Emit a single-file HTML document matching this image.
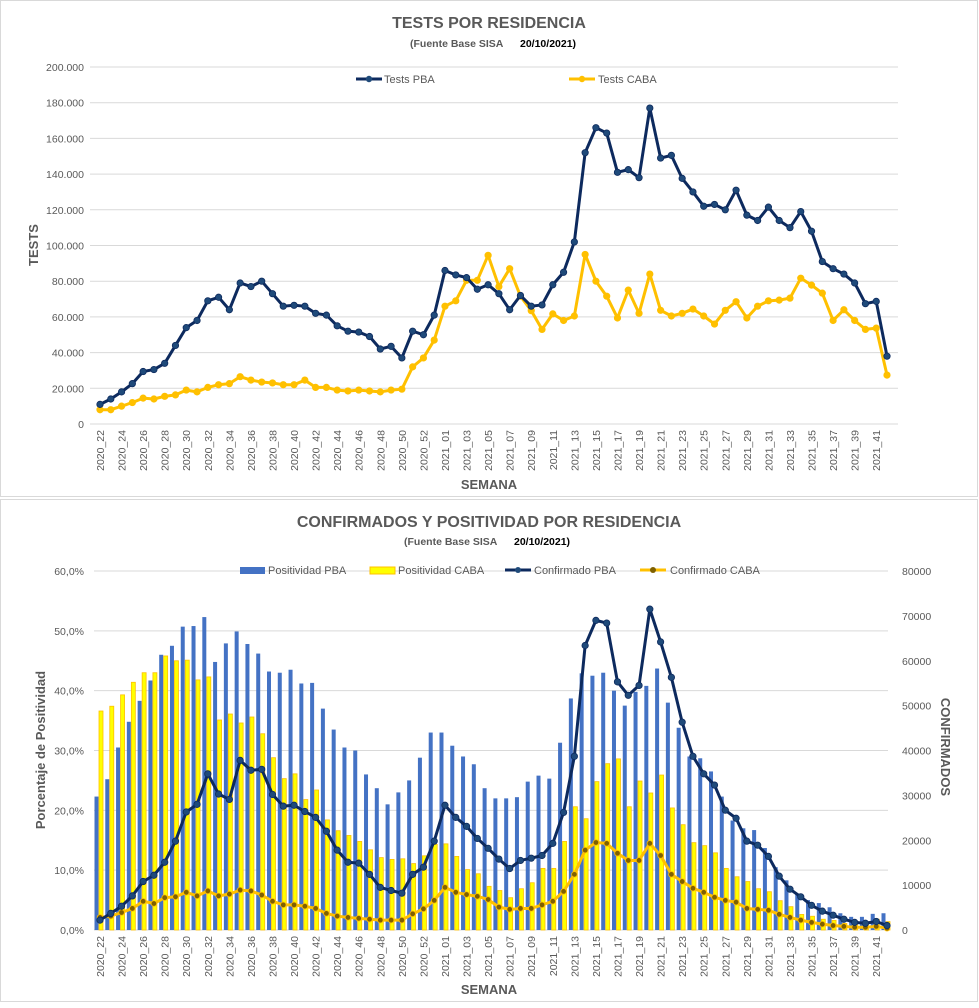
<!DOCTYPE html>
<html><head><meta charset="utf-8"><style>
body{margin:0;background:#fff;}
svg text{font-family:"Liberation Sans",sans-serif;}
</style></head><body>
<svg id="c" width="979" height="1003" xmlns="http://www.w3.org/2000/svg">
<rect x="0.5" y="0.5" width="977" height="496" fill="#fff" stroke="#d9d9d9"/>
<rect x="0.5" y="499.5" width="977" height="502" fill="#fff" stroke="#d9d9d9"/>
<text x="489" y="28" text-anchor="middle" font-size="16" font-weight="bold" fill="#595959">TESTS POR RESIDENCIA</text>
<text x="410" y="47" font-size="10.5" font-weight="bold" fill="#595959">(Fuente Base SISA</text>
<text x="520" y="47" font-size="10.5" font-weight="bold" fill="#000">20/10/2021)</text>
<text x="489" y="527" text-anchor="middle" font-size="16" font-weight="bold" fill="#595959">CONFIRMADOS Y POSITIVIDAD POR RESIDENCIA</text>
<text x="404" y="545" font-size="10.5" font-weight="bold" fill="#595959">(Fuente Base SISA</text>
<text x="514" y="545" font-size="10.5" font-weight="bold" fill="#000">20/10/2021)</text>
<g id="top"></g><g id="bot"></g>
</svg>
<script>
const weeks=[];for(let w=22;w<=53;w++)weeks.push('2020_'+w);for(let w=1;w<=42;w++)weeks.push('2021_'+String(w).padStart(2,'0'));
const testsPBA=[11,14,18,22.6,29.4,30.5,34,44,54,58,69,71,64,79,77,80,73,66,66.5,66,62,61,55,52,51.5,49,42,43.5,37,52,50,61,86,83.5,82,75.5,78,73,64,72,66,66.7,78,85,102,152,166,163,141,142.5,138,177,149,150.5,137.6,130,122,123,120,131,117,114,121.5,114,110,119,108,91,87,84,79,67.4,68.7,38];
const testsCABA=[8,8,10,12,14.5,14,15.5,16.3,19,18,20.5,22,22.6,26.5,24.6,23.5,23,22,22,24.6,20.5,20.5,19,18.5,19,18.5,18,19,19.5,32,37,47,66,69,80.5,80.5,94.5,77,87,71.6,63.5,53,61.7,58,60.5,95,80,71.6,59.4,75,62,84,63.7,60.5,62,64.4,60.5,56,63.7,68.5,59.4,66,69,69.4,70.5,81.7,77.8,73.3,58,64,58,53,53.7,27.4];
const posPBA=[22.3,25.2,30.5,34.8,38.3,41.7,46,47.5,50.7,50.8,52.3,44.8,47.9,49.9,47.8,46.2,43.2,43,43.5,41.2,41.3,37,33.5,30.5,30,26,23.7,21,23,25,28.8,33,33,30.8,29,27.7,23.7,22,22,22.2,24.8,25.8,25.3,31.3,38.7,42.9,42.5,43,40,37.5,39.8,40.8,43.7,38,33.8,29,28.7,26.5,22.3,18.3,17,16.7,13.7,10.5,8.3,6.1,5,4.5,3.8,2.8,2.2,2.2,2.7,2.8];
const posCABA=[36.6,37.4,39.3,41.4,43,43,45.8,45,45.1,41.8,42.3,35.1,36.1,34.6,35.6,32.8,28.8,25.3,26.1,21.8,23.4,18.4,16.6,15.8,14.8,13.4,12.1,11.8,11.9,11.1,12.4,14.3,14.4,12.3,10.1,9.4,7.3,6.6,5.4,6.9,7.9,10.3,10.3,14.8,20.6,18.6,24.8,27.8,28.6,20.6,24.9,22.9,25.9,20.4,17.6,14.6,14.1,12.9,10.3,8.9,8.1,6.9,6.4,4.9,3.9,2.6,2.3,1.8,1.6,1.1,0.9,0.9,1.8,1.4];
const confPBA=[2.2,3.7,5.3,7.6,10.8,12.2,15.1,19.8,26.3,28,34.8,30.3,29.1,37.8,35.6,35.8,30.2,27.6,27.8,26.4,25.1,22,17.8,15.1,14.9,12.4,9.5,8.8,8.2,12.4,14,19.8,27.8,25.1,23.1,20.4,18.2,15.8,13.7,15.5,16,16.6,19.3,26.2,38.7,63.4,69,68.4,55.3,52.3,54.5,71.5,64.2,56.3,46.3,38.7,34.8,32.3,26.7,24.9,19.8,18.9,16.4,12,9.1,7.4,5.5,4.2,3.3,2.4,1.7,1.5,1.9,1];
const confCABA=[2.8,3.1,3.9,4.8,6.4,5.9,7.2,7.4,8.4,7.6,8.7,7.6,8,8.9,8.7,7.8,6.4,5.6,5.6,5.3,4.8,3.7,3.1,2.8,2.6,2.4,2.2,2.2,2.2,3.6,4.7,6.6,9.5,8.4,7.9,7.5,6.8,5.1,4.6,4.8,4.8,5.6,6.4,8.6,12.4,17.8,19.5,19.3,17.1,15.5,15.5,19.3,16.6,12.4,10.8,9.3,8.4,7.3,6.6,6.2,4.8,4.6,4.4,3.5,2.8,2.2,1.7,1.3,1,0.8,0.6,0.6,0.8,0.4];
const topTicks=['0','20.000','40.000','60.000','80.000','100.000','120.000','140.000','160.000','180.000','200.000'];
const pctTicks=['0,0%','10,0%','20,0%','30,0%','40,0%','50,0%','60,0%'];
const rightTicks=['0','10000','20000','30000','40000','50000','60000','70000','80000'];

const NS='http://www.w3.org/2000/svg';
function mk(p,t,a,txt){const e=document.createElementNS(NS,t);for(const k in a)e.setAttribute(k,a[k]);if(txt!==undefined)e.textContent=txt;p.appendChild(e);return e;}
const xAt=i=>100+i*(787/(weeks.length-1));
const topG=document.getElementById('top'),botG=document.getElementById('bot');
const yT=v=>424-v*357/200;
topTicks.forEach((s,k)=>{const y=424-k*35.7;
 const g=mk(topG,'line',{x1:90,x2:898,y1:y,y2:y,stroke:'#d9d9d9','stroke-width':1});
 
 
 const l=mk(topG,'text',{x:84,y:y+4,'text-anchor':'end','font-size':10.5,fill:'#595959'},s);
 
 });
function xlabels(par,y0,nm){weeks.forEach((w,i)=>{if(i%2)return;const x=xAt(i)+4;
 const e=mk(par,'text',{x:x,y:y0,'text-anchor':'end','font-size':10.5,fill:'#595959',transform:`rotate(-90 ${x} ${y0})`},w);
 
 });}
xlabels(topG,430,'tests-x-tick');
function series(par,vals,yf,col,mcol,r,w,nm){
 const p=mk(par,'polyline',{points:vals.map((v,i)=>xAt(i)+','+yf(v)).join(' '),fill:'none',stroke:col,'stroke-width':w,'stroke-linejoin':'round'});
 
 
 vals.forEach((v,i)=>{const c=mk(par,'circle',{cx:xAt(i),cy:yf(v),r:r,fill:mcol,stroke:col,'stroke-width':0.8});
 
 });}
series(topG,testsCABA,yT,'#ffc000','#ffc000',3.2,3,'tests-caba');
series(topG,testsPBA,yT,'#0d2a5e','#1f4a7a',3.2,3,'tests-pba');
let t;
t=mk(topG,'text',{x:489,y:489,'text-anchor':'middle','font-size':13,'font-weight':'bold',fill:'#595959'},'SEMANA');

t=mk(topG,'text',{x:38,y:245,'text-anchor':'middle','font-size':13,'font-weight':'bold',fill:'#595959',transform:'rotate(-90 38 245)'},'TESTS');

mk(topG,'line',{x1:356,x2:382,y1:79,y2:79,stroke:'#0d2a5e','stroke-width':3});mk(topG,'circle',{cx:369,cy:79,r:3.2,fill:'#1f4a7a'});
t=mk(topG,'text',{x:384,y:83,'font-size':11,fill:'#595959'},'Tests PBA');
mk(topG,'line',{x1:569,x2:595,y1:79,y2:79,stroke:'#ffc000','stroke-width':3});mk(topG,'circle',{cx:582,cy:79,r:3.2,fill:'#ffc000'});
t=mk(topG,'text',{x:598,y:83,'font-size':11,fill:'#595959'},'Tests CABA');
const yP=v=>930-v*359/60, yC=v=>930-v*359/80;
pctTicks.forEach((s,k)=>{const y=930-k*359/6;
 const g=mk(botG,'line',{x1:94,x2:888,y1:y,y2:y,stroke:'#d9d9d9','stroke-width':1});
 
 
 const l=mk(botG,'text',{x:84,y:y+4,'text-anchor':'end','font-size':10.5,fill:'#595959'},s);
 
 });
rightTicks.forEach((s,k)=>{const y=930-k*359/8;
 const l=mk(botG,'text',{x:902,y:y+4,'font-size':10.5,fill:'#595959'},s);
 
 });
weeks.forEach((w,i)=>{const c=xAt(i);
 const b=mk(botG,'rect',{x:c-5.5,y:yP(posPBA[i]),width:4,height:930-yP(posPBA[i]),fill:'#4472c4'});
 
 
 const y2=mk(botG,'rect',{x:c-1,y:yP(posCABA[i]),width:4,height:930-yP(posCABA[i]),fill:'#ffff00',stroke:'#ffc000','stroke-width':0.8});
 
 });
series(botG,confCABA,yC,'#ffc000','#7f6000',2.8,3,'confirmado-caba');
series(botG,confPBA,yC,'#0d2a5e','#1f4a7a',3.2,3,'confirmado-pba');
xlabels(botG,936,'confirmados-x-tick');
t=mk(botG,'text',{x:489,y:994,'text-anchor':'middle','font-size':13,'font-weight':'bold',fill:'#595959'},'SEMANA');

t=mk(botG,'text',{x:45,y:750,'text-anchor':'middle','font-size':13,'font-weight':'bold',fill:'#595959',transform:'rotate(-90 45 750)'},'Porcentaje de Positividad');

t=mk(botG,'text',{x:941,y:747,'text-anchor':'middle','font-size':13,'font-weight':'bold',fill:'#595959',transform:'rotate(90 941 747)'},'CONFIRMADOS');

mk(botG,'rect',{x:240,y:567,width:25,height:7,fill:'#4472c4'});
t=mk(botG,'text',{x:268,y:574,'font-size':11,fill:'#595959'},'Positividad PBA');
mk(botG,'rect',{x:370,y:567,width:25,height:7,fill:'#ffff00',stroke:'#ffc000'});
t=mk(botG,'text',{x:398,y:574,'font-size':11,fill:'#595959'},'Positividad CABA');
mk(botG,'line',{x1:505,x2:531,y1:570,y2:570,stroke:'#0d2a5e','stroke-width':3});mk(botG,'circle',{cx:518,cy:570,r:3,fill:'#1f4a7a'});
t=mk(botG,'text',{x:534,y:574,'font-size':11,fill:'#595959'},'Confirmado PBA');
mk(botG,'line',{x1:640,x2:666,y1:570,y2:570,stroke:'#ffc000','stroke-width':3});mk(botG,'circle',{cx:653,cy:570,r:3,fill:'#7f6000'});
t=mk(botG,'text',{x:670,y:574,'font-size':11,fill:'#595959'},'Confirmado CABA');
</script>
</body></html>
